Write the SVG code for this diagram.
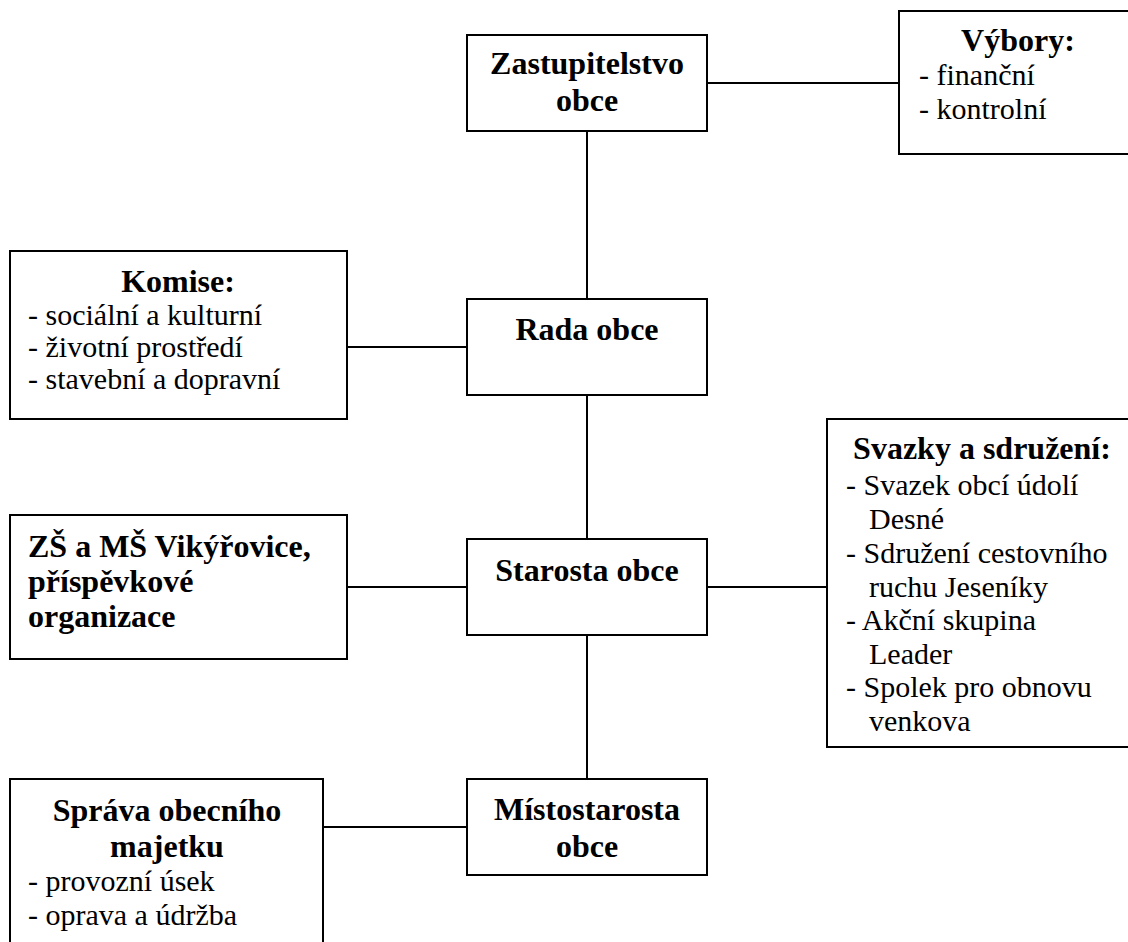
<svg xmlns="http://www.w3.org/2000/svg" width="1128" height="942" viewBox="0 0 1128 942">
  <style>
    .box { fill: #ffffff; stroke: #000000; stroke-width: 2; }
    .link { stroke: #000000; stroke-width: 2; fill: none; }
    text { font-family: 'Liberation Serif', 'Times New Roman', Tinos, 'DejaVu Serif', serif; fill: #000000; }
    .title { font-weight: bold; font-size: 32px; }
    .item { font-size: 30px; }
    .mid { text-anchor: middle; }
  </style>
  <rect width="1128" height="942" fill="#ffffff"/>

  <!-- connectors -->
  <g id="connectors">
    <line class="link" x1="587" y1="131" x2="587" y2="299"/>
    <line class="link" x1="587" y1="395" x2="587" y2="539"/>
    <line class="link" x1="587" y1="635" x2="587" y2="779"/>
    <line class="link" x1="707" y1="83" x2="899" y2="83"/>
    <line class="link" x1="347" y1="347" x2="467" y2="347"/>
    <line class="link" x1="347" y1="587" x2="467" y2="587"/>
    <line class="link" x1="707" y1="587" x2="827" y2="587"/>
    <line class="link" x1="323" y1="827" x2="467" y2="827"/>
  </g>

  <!-- council -->
  <g id="zastupitelstvo">
    <rect class="box" x="467" y="35" width="240" height="96"/>
    <text class="title mid" x="587" y="74">Zastupitelstvo</text>
    <text class="title mid" x="587" y="111">obce</text>
  </g>

  <!-- committees -->
  <g id="vybory">
    <rect class="box" x="899" y="11" width="238" height="143"/>
    <text class="title mid" x="1018" y="51">Výbory:</text>
    <text class="item" x="919" y="85">- finanční</text>
    <text class="item" x="919" y="119">- kontrolní</text>
  </g>

  <!-- board -->
  <g id="rada">
    <rect class="box" x="467" y="299" width="240" height="96"/>
    <text class="title mid" x="587" y="340">Rada obce</text>
  </g>

  <!-- commissions -->
  <g id="komise">
    <rect class="box" x="10" y="251" width="337" height="168"/>
    <text class="title mid" x="178" y="292">Komise:</text>
    <text class="item" x="28" y="325">- sociální a kulturní</text>
    <text class="item" x="28" y="357">- životní prostředí</text>
    <text class="item" x="28" y="389">- stavební a dopravní</text>
  </g>

  <!-- mayor -->
  <g id="starosta">
    <rect class="box" x="467" y="539" width="240" height="96"/>
    <text class="title mid" x="587" y="581">Starosta obce</text>
  </g>

  <!-- school -->
  <g id="skola">
    <rect class="box" x="10" y="515" width="337" height="144"/>
    <text class="title" x="28" y="557">ZŠ a MŠ Vikýřovice,</text>
    <text class="title" x="28" y="592">příspěvkové</text>
    <text class="title" x="28" y="627">organizace</text>
  </g>

  <!-- associations -->
  <g id="svazky">
    <rect class="box" x="827" y="419" width="310" height="328"/>
    <text class="title mid" x="982" y="459">Svazky a sdružení:</text>
    <text class="item" x="846" y="495">- Svazek obcí údolí</text>
    <text class="item" x="869" y="529">Desné</text>
    <text class="item" x="846" y="563">- Sdružení cestovního</text>
    <text class="item" x="869" y="597">ruchu Jeseníky</text>
    <text class="item" x="846" y="630">- Akční skupina</text>
    <text class="item" x="869" y="664">Leader</text>
    <text class="item" x="846" y="697">- Spolek pro obnovu</text>
    <text class="item" x="869" y="731">venkova</text>
  </g>

  <!-- deputy mayor -->
  <g id="mistostarosta">
    <rect class="box" x="467" y="779" width="240" height="96"/>
    <text class="title mid" x="587" y="820">Místostarosta</text>
    <text class="title mid" x="587" y="857">obce</text>
  </g>

  <!-- property management -->
  <g id="sprava">
    <rect class="box" x="10" y="779" width="313" height="180"/>
    <text class="title mid" x="167" y="821">Správa obecního</text>
    <text class="title mid" x="167" y="857">majetku</text>
    <text class="item" x="28" y="891">- provozní úsek</text>
    <text class="item" x="28" y="925">- oprava a údržba</text>
  </g>
</svg>
